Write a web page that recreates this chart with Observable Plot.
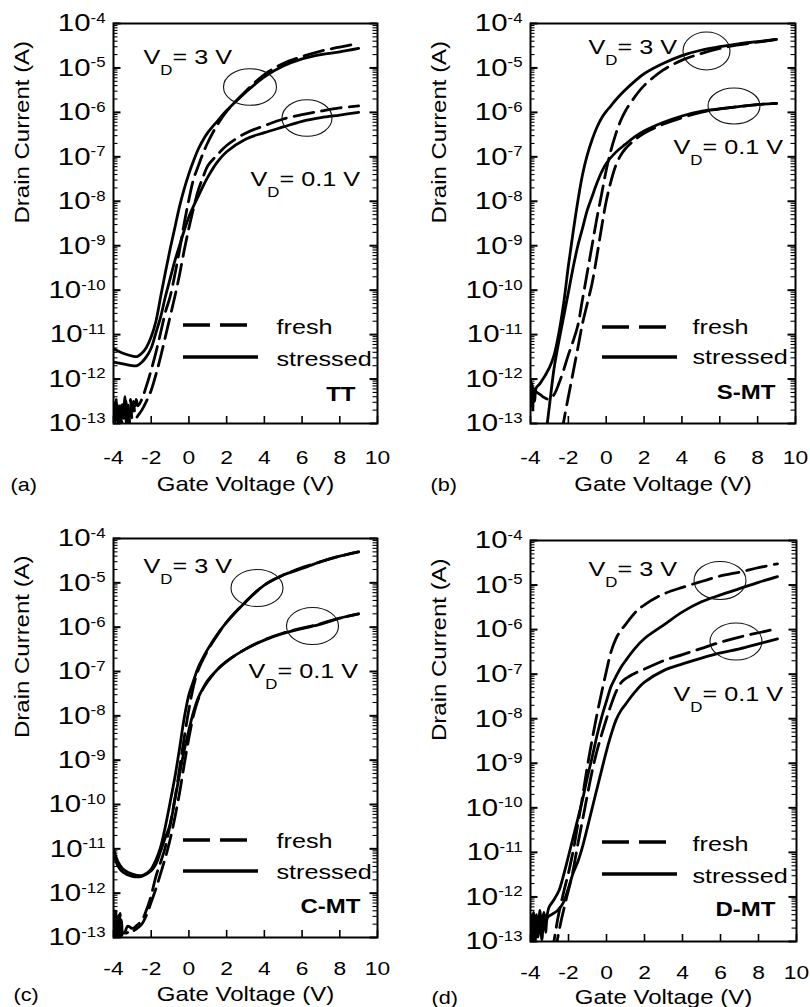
<!DOCTYPE html>
<html>
<head>
<meta charset="utf-8">
<script src="https://cdn.jsdelivr.net/npm/d3@7"></script>
<script src="https://cdn.jsdelivr.net/npm/@observablehq/plot@0.6"></script>
<style>
  html, body { margin: 0; padding: 0; background: #fff; }
  #fig { position: relative; width: 810px; height: 1007px; overflow: hidden; background: #fff; }
  #fig svg { position: absolute; }
</style>
</head>
<body>
<div id="fig"></div>
<script>
// ---------- axis ticks & labels ----------
const xTicks = [-4, -2, 0, 2, 4, 6, 8, 10];
const xTickLabels = ["-4", "-2", "0", "2", "4", "6", "8", "10"];
const yTicks = [1e-13, 1e-12, 1e-11, 1e-10, 1e-9, 1e-8, 1e-7, 1e-6, 1e-5, 1e-4];
const yTickExponents = ["-13", "-12", "-11", "-10", "-9", "-8", "-7", "-6", "-5", "-4"];
const yMinorMultipliers = [2, 3, 4, 5, 6, 7, 8, 9];
const xLabel = "Gate Voltage (V)";
const yLabel = "Drain Current (A)";
const panelLetters = ["(a)", "(b)", "(c)", "(d)"];
const deviceNames = ["TT", "S-MT", "C-MT", "D-MT"];
const seriesNames = ["fresh", "stressed"];
const drainLabels = ["VD= 3 V", "VD= 0.1 V"];

// ---------- data: [gate voltage (V), drain current (A)] ----------
// (a) TT
const ttFresh3V = [[-4,2.8e-13],[-3.92,8.9e-14],[-3.85,3.5e-13],[-3.78,1.1e-13],[-3.7,2.5e-13],[-3.62,7.9e-14],[-3.55,3.2e-13],[-3.47,1.3e-13],[-3.4,4.0e-13],[-3.32,1.0e-13],[-3.25,2.8e-13],[-3.17,1.4e-13],[-3.1,3.5e-13],[-3.02,1.3e-13],[-2.95,3.2e-13],[-2.87,1.8e-13],[-2.8,3.5e-13],[-2.7,2.5e-13],[-2.5,3.5e-13],[-2.25,7.1e-13],[-2,1.6e-12],[-1.75,4.0e-12],[-1.5,1.1e-11],[-1.25,3.2e-11],[-1,7.1e-11],[-0.75,2.2e-10],[-0.5,7.9e-10],[-0.25,3.2e-9],[0,1.1e-8],[0.25,3.2e-8],[0.5,6.3e-8],[0.75,1.2e-7],[1,2.1e-7],[1.5,5.2e-7],[2,1.05e-6],[3,2.95e-6],[4,7.1e-6],[5,1.26e-5],[6,1.8e-5],[7,2.4e-5],[8,2.95e-5],[9,3.55e-5]];
const ttStressed3V = [[-4,4.8e-12],[-3.5,3.8e-12],[-3,3.3e-12],[-2.75,3.2e-12],[-2.5,3.8e-12],[-2.25,5.2e-12],[-2,8.9e-12],[-1.75,2.0e-11],[-1.5,7.1e-11],[-1.25,2.5e-10],[-1,8.3e-10],[-0.75,2.5e-9],[-0.5,7.6e-9],[-0.25,1.9e-8],[0,4.2e-8],[0.25,8.3e-8],[0.5,1.5e-7],[0.75,2.4e-7],[1,3.5e-7],[1.5,6.3e-7],[2,1.1e-6],[3,2.8e-6],[4,6.3e-6],[5,1.1e-5],[6,1.6e-5],[7,2.0e-5],[8,2.3e-5],[9,2.75e-5]];
const ttFresh01V = [[-4,2.0e-13],[-3.9,7.9e-14],[-3.82,2.8e-13],[-3.74,1.0e-13],[-3.66,2.2e-13],[-3.58,7.9e-14],[-3.5,2.5e-13],[-3.42,1.1e-13],[-3.34,3.2e-13],[-3.26,8.9e-14],[-3.18,1.8e-13],[-3.1,7.9e-14],[-3,8.9e-14],[-2.75,1.4e-13],[-2.5,2.0e-13],[-2.25,3.2e-13],[-2,5.6e-13],[-1.75,1.26e-12],[-1.5,3.2e-12],[-1.25,8.9e-12],[-1,2.5e-11],[-0.75,7.1e-11],[-0.5,2.2e-10],[-0.25,7.9e-10],[0,2.5e-9],[0.25,7.1e-9],[0.5,1.8e-8],[0.75,3.5e-8],[1,6.3e-8],[1.5,1.1e-7],[2,1.8e-7],[3,3.4e-7],[4,5.0e-7],[5,7.1e-7],[6,8.9e-7],[7,1.07e-6],[8,1.26e-6],[9,1.4e-6]];
const ttStressed01V = [[-4,2.4e-12],[-3.5,2.2e-12],[-3,2.0e-12],[-2.75,2.0e-12],[-2.5,2.4e-12],[-2.25,3.2e-12],[-2,5.0e-12],[-1.75,1.1e-11],[-1.5,2.5e-11],[-1.25,7.1e-11],[-1,1.8e-10],[-0.75,4.5e-10],[-0.5,1.0e-9],[-0.25,2.2e-9],[0,4.5e-9],[0.25,7.9e-9],[0.5,1.3e-8],[0.75,2.2e-8],[1,3.5e-8],[1.5,7.6e-8],[2,1.3e-7],[3,2.5e-7],[4,3.5e-7],[5,4.7e-7],[6,6.3e-7],[7,7.6e-7],[8,8.7e-7],[9,1.0e-6]];
// (b) S-MT
const smtFresh3V = [[-4,6.3e-13],[-3.5,4.5e-13],[-3.25,3.8e-13],[-3,3.5e-13],[-2.75,4.5e-13],[-2.5,7.9e-13],[-2.25,1.6e-12],[-2,3.5e-12],[-1.75,7.1e-12],[-1.5,1.6e-11],[-1.25,6.3e-11],[-1,2.5e-10],[-0.75,1.0e-9],[-0.5,4.0e-9],[-0.25,1.4e-8],[0,5.0e-8],[0.25,1.4e-7],[0.5,3.2e-7],[0.75,6.3e-7],[1,1.05e-6],[1.5,2.2e-6],[2,4.0e-6],[3,8.9e-6],[4,1.5e-5],[5,2.1e-5],[6,2.75e-5],[7,3.3e-5],[8,3.8e-5],[9,4.4e-5]];
const smtStressed3V = [[-4,1.0e-12],[-3.96,2.5e-13],[-3.92,8.0e-13],[-3.88,2.0e-13],[-3.84,6.3e-13],[-3.78,3.2e-13],[-3.7,6.3e-13],[-3.5,7.9e-13],[-3,1.8e-12],[-2.75,3.5e-12],[-2.5,1.1e-11],[-2.25,5.0e-11],[-2,3.5e-10],[-1.75,2.0e-9],[-1.5,1.0e-8],[-1.25,4.0e-8],[-1,1.1e-7],[-0.75,2.4e-7],[-0.5,4.5e-7],[-0.25,7.4e-7],[0,1.05e-6],[0.25,1.4e-6],[0.5,1.9e-6],[0.75,2.5e-6],[1,3.2e-6],[1.5,5.0e-6],[2,7.4e-6],[3,1.26e-5],[4,1.9e-5],[5,2.5e-5],[6,3.0e-5],[7,3.5e-5],[8,3.9e-5],[9,4.4e-5]];
const smtFresh01V = [[-2.35,6.3e-14],[-2.25,1.1e-13],[-2,4.0e-13],[-1.75,1.4e-12],[-1.5,5.0e-12],[-1.25,1.8e-11],[-1,5.0e-11],[-0.75,1.4e-10],[-0.5,5.6e-10],[-0.25,2.5e-9],[0,1.0e-8],[0.25,2.8e-8],[0.5,6.3e-8],[0.75,1.05e-7],[1,1.5e-7],[1.5,2.4e-7],[2,3.4e-7],[3,5.4e-7],[4,7.6e-7],[5,1.0e-6],[6,1.2e-6],[7,1.35e-6],[8,1.5e-6],[9,1.6e-6]];
const smtStressed01V = [[-3.2,5.0e-14],[-3,2.5e-13],[-2.75,1.8e-12],[-2.5,7.1e-12],[-2.25,2.5e-11],[-2,8.9e-11],[-1.75,3.2e-10],[-1.5,1.0e-9],[-1.25,2.5e-9],[-1,6.3e-9],[-0.75,1.26e-8],[-0.5,2.5e-8],[-0.25,4.5e-8],[0,7.1e-8],[0.5,1.26e-7],[1,1.9e-7],[1.5,2.8e-7],[2,3.8e-7],[3,5.9e-7],[4,8.3e-7],[5,1.05e-6],[6,1.2e-6],[7,1.35e-6],[8,1.5e-6],[9,1.6e-6]];
// (c) C-MT
const cmtFresh3V = [[-4,2.5e-13],[-3.93,8.9e-14],[-3.86,4.0e-13],[-3.79,1.0e-13],[-3.72,3.2e-13],[-3.65,7.9e-14],[-3.58,2.5e-13],[-3.5,1.1e-13],[-3.4,1.26e-13],[-3.25,1.8e-13],[-3,1.6e-13],[-2.75,1.9e-13],[-2.5,2.4e-13],[-2.25,4.2e-13],[-2,8.9e-13],[-1.75,2.4e-12],[-1.5,5.0e-12],[-1.25,1.1e-11],[-1,3.5e-11],[-0.75,1.3e-10],[-0.5,6.3e-10],[-0.25,3.2e-9],[0,1.4e-8],[0.25,4.8e-8],[0.5,1.1e-7],[1,3.0e-7],[1.5,6.6e-7],[2,1.3e-6],[3,3.7e-6],[4,8.9e-6],[5,1.5e-5],[6,2.2e-5],[7,3.0e-5],[8,4.0e-5],[9,5.0e-5]];
const cmtStressed3V = [[-4,1.0e-11],[-3.75,5.0e-12],[-3.5,3.5e-12],[-3,2.7e-12],[-2.5,2.5e-12],[-2.25,2.8e-12],[-2,3.5e-12],[-1.75,5.6e-12],[-1.5,1.1e-11],[-1.25,3.2e-11],[-1,1.1e-10],[-0.75,4.0e-10],[-0.5,1.8e-9],[-0.25,8.9e-9],[0,3.0e-8],[0.25,6.3e-8],[0.5,1.26e-7],[1,3.2e-7],[1.5,6.8e-7],[2,1.3e-6],[3,3.7e-6],[4,8.9e-6],[5,1.5e-5],[6,2.1e-5],[7,3.0e-5],[8,4.0e-5],[9,5.0e-5]];
const cmtFresh01V = [[-4,1.4e-13],[-3.93,4.0e-13],[-3.86,7.9e-14],[-3.79,3.2e-13],[-3.72,8.9e-14],[-3.65,3.5e-13],[-3.58,1.1e-13],[-3.5,1.26e-13],[-3.3,1.26e-13],[-3.1,1.5e-13],[-3,1.4e-13],[-2.75,1.6e-13],[-2.5,2.0e-13],[-2.25,3.2e-13],[-2,6.3e-13],[-1.75,1.26e-12],[-1.5,2.8e-12],[-1.25,6.3e-12],[-1,1.6e-11],[-0.75,5.0e-11],[-0.5,1.8e-10],[-0.25,7.9e-10],[0,3.2e-9],[0.25,1.05e-8],[0.5,2.4e-8],[0.75,4.1e-8],[1,6.0e-8],[1.5,1.1e-7],[2,1.7e-7],[3,3.2e-7],[4,5.2e-7],[5,7.4e-7],[6,9.5e-7],[7,1.2e-6],[8,1.6e-6],[9,2.0e-6]];
const cmtStressed01V = [[-4,7.9e-12],[-3.75,4.0e-12],[-3.5,3.0e-12],[-3,2.4e-12],[-2.5,2.4e-12],[-2,3.2e-12],[-1.75,4.5e-12],[-1.5,8.9e-12],[-1.25,1.8e-11],[-1,3.5e-11],[-0.75,1.26e-10],[-0.5,4.7e-10],[-0.25,1.66e-9],[0,4.8e-9],[0.25,1.26e-8],[0.5,2.6e-8],[0.75,4.2e-8],[1,6.3e-8],[1.5,1.1e-7],[2,1.7e-7],[3,3.2e-7],[4,5.1e-7],[5,7.2e-7],[6,9.3e-7],[7,1.17e-6],[8,1.6e-6],[9,2.0e-6]];
// (d) D-MT
const dmtFresh3V = [[-2.85,5.0e-14],[-2.75,1.1e-13],[-2.5,4.5e-13],[-2.25,1.3e-12],[-2,3.5e-12],[-1.75,1.1e-11],[-1.5,4.5e-11],[-1.25,1.9e-10],[-1,8.9e-10],[-0.75,3.5e-9],[-0.5,1.26e-8],[-0.25,4.0e-8],[0,1.2e-7],[0.25,3.3e-7],[0.5,6.3e-7],[0.75,9.5e-7],[1,1.3e-6],[1.5,2.4e-6],[2,3.6e-6],[3,6.3e-6],[4,8.9e-6],[5,1.2e-5],[6,1.6e-5],[7,1.95e-5],[8,2.45e-5],[9,3.0e-5]];
const dmtStressed3V = [[-4,4.0e-13],[-3.92,1.4e-13],[-3.84,4.5e-13],[-3.76,1.26e-13],[-3.68,4.0e-13],[-3.6,1.8e-13],[-3.5,5.0e-13],[-3.4,2.0e-13],[-3.3,4.5e-13],[-3.2,2.8e-13],[-3.03,5.8e-13],[-2.75,8.9e-13],[-2.5,1.4e-12],[-2.25,3.2e-12],[-2,8.3e-12],[-1.75,2.2e-11],[-1.5,5.9e-11],[-1.25,1.6e-10],[-1,5.0e-10],[-0.75,1.4e-9],[-0.5,4.2e-9],[-0.25,1.1e-8],[0,2.5e-8],[0.25,5.4e-8],[0.5,8.9e-8],[0.75,1.4e-7],[1,2.0e-7],[1.5,3.8e-7],[2,6.3e-7],[3,1.26e-6],[4,2.5e-6],[5,4.2e-6],[6,6.0e-6],[7,8.3e-6],[8,1.15e-5],[9,1.55e-5]];
const dmtFresh01V = [[-2.7,5.0e-14],[-2.6,1.0e-13],[-2.42,2.5e-13],[-2.15,7.9e-13],[-1.8,3.2e-12],[-1.5,1.6e-11],[-1.25,5.6e-11],[-1,2.0e-10],[-0.75,6.8e-10],[-0.5,1.9e-9],[-0.25,4.5e-9],[0,1.0e-8],[0.25,2.1e-8],[0.5,4.0e-8],[0.75,6.3e-8],[1,7.9e-8],[1.5,1.05e-7],[2,1.3e-7],[3,2.0e-7],[4,2.75e-7],[5,3.8e-7],[6,5.2e-7],[7,6.8e-7],[8,8.5e-7],[9,1.05e-6]];
const dmtStressed01V = [[-4,2.5e-13],[-3.92,7.9e-14],[-3.84,3.2e-13],[-3.76,8.9e-14],[-3.68,3.5e-13],[-3.6,1.26e-13],[-3.5,3.2e-13],[-3.4,1.1e-13],[-3.3,4.0e-13],[-3.2,1.6e-13],[-3.1,3.5e-13],[-2.9,4.0e-13],[-2.59,4.9e-13],[-2.3,7.1e-13],[-2,1.6e-12],[-1.75,3.5e-12],[-1.5,6.3e-12],[-1.25,1.4e-11],[-1,3.7e-11],[-0.75,1.0e-10],[-0.5,2.7e-10],[-0.25,7.2e-10],[0,1.9e-9],[0.25,4.5e-9],[0.5,9.3e-9],[0.75,1.5e-8],[1,2.1e-8],[1.5,4.0e-8],[2,6.6e-8],[3,1.2e-7],[4,1.7e-7],[5,2.3e-7],[6,3.0e-7],[7,3.7e-7],[8,4.8e-7],[9,6.2e-7]];

const panelCurves = [
  [["fresh", ttFresh3V], ["stressed", ttStressed3V], ["fresh", ttFresh01V], ["stressed", ttStressed01V]],
  [["fresh", smtFresh3V], ["stressed", smtStressed3V], ["fresh", smtFresh01V], ["stressed", smtStressed01V]],
  [["fresh", cmtFresh3V], ["stressed", cmtStressed3V], ["fresh", cmtFresh01V], ["stressed", cmtStressed01V]],
  [["fresh", dmtFresh3V], ["stressed", dmtStressed3V], ["fresh", dmtFresh01V], ["stressed", dmtStressed01V]]
];

// ---------- layout (pixels; offsets relative to the frame's top-left) ----------
const FONT = "'Liberation Sans', Arial, Helvetica, sans-serif";
const STRETCH = 1.2;
const layouts = [
  {left: 0, top: 0, width: 405, height: 500, mt: 23, mr: 28, mb: 77, ml: 113, letterDx: -103, tickPad: 27, labDy: 67,
   vd3: [30, 40], vd01: [137, 162], ellipses: [[137, 64, 26.5, 18.3], [194, 95, 25, 18.3]],
   leg: {x0: 70, yDash: 302, ySolid: 334, tx: 163, tyF: 310, tyS: 342}, dev: [242, 377]},
  {left: 405, top: 0, width: 405, height: 500, mt: 23, mr: 15, mb: 77, ml: 125, letterDx: -100, tickPad: 27, labDy: 67,
   vd3: [58, 30], vd01: [143, 130], ellipses: [[176.5, 28, 23.5, 19], [204, 83, 26, 18]],
   leg: {x0: 72, yDash: 304, ySolid: 334, tx: 162, tyF: 310, tyS: 340}, dev: [245, 375]},
  {left: 0, top: 500, width: 405, height: 507, mt: 38, mr: 28, mb: 70, ml: 113, letterDx: -100, tickPad: 24, labDy: 63,
   vd3: [30, 34], vd01: [135, 139], ellipses: [[144, 50, 26, 18.5], [199.5, 88, 26, 18.5]],
   leg: {x0: 70, yDash: 302, ySolid: 333, tx: 163, tyF: 309, tyS: 340}, dev: [247, 374]},
  {left: 405, top: 500, width: 405, height: 507, mt: 40, mr: 14, mb: 66, ml: 125, letterDx: -99, tickPad: 24, labDy: 62,
   vd3: [58, 35], vd01: [143, 160], ellipses: [[190, 40.5, 26, 19], [206, 101.5, 26, 18.5]],
   leg: {x0: 72, yDash: 302, ySolid: 334, tx: 162, tyF: 310, tyS: 342}, dev: [245, 375]}
];

const yMinor = yTicks.slice(0, -1).flatMap(t => yMinorMultipliers.map(m => t * m));

function drawPanel(pi) {
  const L = layouts[pi];
  const W = L.width - L.ml - L.mr, H = L.height - L.mt - L.mb;
  const rows = [];
  panelCurves[pi].forEach(([cond, pts], ci) => {
    pts.forEach(([vg, id]) => rows.push({key: ci, cond, vg, id}));
  });
  const txt = (label, o) => Plot.text([label], {frameAnchor: "top-left", textAnchor: "start", lineAnchor: "bottom", fontSize: 21, ...o});
  const deco = (index, scales, values, dims) => {
    const g = d3.create("svg:g");
    const ox = dims.marginLeft, oy = dims.marginTop;
    for (const [cx, cy, rx, ry] of L.ellipses) {
      g.append("ellipse").attr("cx", ox + cx).attr("cy", oy + cy).attr("rx", rx).attr("ry", ry)
        .attr("fill", "none").attr("stroke", "#111").attr("stroke-width", 1.1);
    }
    g.append("line").attr("x1", ox + L.leg.x0).attr("x2", ox + L.leg.x0 + 64)
      .attr("y1", oy + L.leg.yDash).attr("y2", oy + L.leg.yDash)
      .attr("stroke", "black").attr("stroke-width", 3.4).attr("stroke-dasharray", "27,10");
    g.append("line").attr("x1", ox + L.leg.x0).attr("x2", ox + L.leg.x0 + 75)
      .attr("y1", oy + L.leg.ySolid).attr("y2", oy + L.leg.ySolid)
      .attr("stroke", "black").attr("stroke-width", 3.4);
    return g.node();
  };
  const svg = Plot.plot({
    width: L.width, height: L.height,
    marginTop: L.mt, marginRight: L.mr, marginBottom: L.mb, marginLeft: L.ml,
    style: {fontFamily: FONT, background: "white", color: "black", overflow: "visible"},
    x: {domain: [-4, 10]},
    y: {type: "log", domain: [1e-13, 1e-4]},
    marks: [
      Plot.line(rows.filter(r => r.cond === seriesNames[1]), {x: "vg", y: "id", z: "key", stroke: "black", strokeWidth: 2.8, curve: "catmull-rom", clip: true}),
      Plot.line(rows.filter(r => r.cond === seriesNames[0]), {x: "vg", y: "id", z: "key", stroke: "black", strokeWidth: 2.8, strokeDasharray: "20,8", curve: "catmull-rom", clip: true}),
      Plot.tickY(yMinor, {y: d => d, insetRight: W - 4.5, strokeWidth: 1.1}),
      Plot.tickY(yMinor, {y: d => d, insetLeft: W - 4.5, strokeWidth: 1.1}),
      Plot.tickY(yTicks, {y: d => d, insetRight: W - 7.5, strokeWidth: 2}),
      Plot.tickY(yTicks, {y: d => d, insetLeft: W - 7.5, strokeWidth: 2}),
      Plot.tickX(xTicks, {x: d => d, insetTop: H - 7, strokeWidth: 1.6}),
      Plot.frame({stroke: "black", strokeWidth: 2}),
      Plot.axisY(yTicks, {tickSize: 0, tickPadding: 8, fontSize: 24.5, label: null,
        tickFormat: d => "10^" + yTickExponents[yTicks.indexOf(d)]}),
      Plot.axisX(xTicks, {tickSize: 0, tickPadding: L.tickPad, fontSize: 19, label: null,
        tickFormat: d => xTickLabels[xTicks.indexOf(d)]}),
      Plot.text([xLabel], {frameAnchor: "bottom", dy: L.labDy, lineAnchor: "bottom", fontSize: 20}),
      Plot.text([panelLetters[pi]], {frameAnchor: "bottom-left", dx: L.letterDx, dy: L.labDy, textAnchor: "start", lineAnchor: "bottom", fontSize: 18}),
      Plot.text([yLabel], {frameAnchor: "left", dx: -91, rotate: -90, fontSize: 20}),
      txt(drainLabels[0], {dx: L.vd3[0], dy: L.vd3[1]}),
      txt(drainLabels[1], {dx: L.vd01[0], dy: L.vd01[1]}),
      txt(seriesNames[0], {dx: L.leg.tx, dy: L.leg.tyF}),
      txt(seriesNames[1], {dx: L.leg.tx, dy: L.leg.tyS}),
      txt(deviceNames[pi], {dx: L.dev[0], dy: L.dev[1], textAnchor: "end", fontWeight: "bold", fontSize: 20}),
      deco
    ]
  });
  // superscripts / subscripts and horizontal glyph stretch of the original typeface
  d3.select(svg).selectAll("text").each(function () {
    const t = this.textContent;
    let m;
    if ((m = /^10\^(-?\d+)$/.exec(t))) {
      this.textContent = "10";
      d3.select(this).append("tspan").attr("dy", -8.5).attr("font-size", 14).text(m[1]);
    } else if ((m = /^VD(=.*)$/.exec(t))) {
      this.textContent = "V";
      d3.select(this).append("tspan").attr("dy", 11).attr("font-size", 14).text("D");
      d3.select(this).append("tspan").attr("dy", -11).text(m[1]);
    }
    const tr = this.getAttribute("transform") || "";
    this.setAttribute("transform", (tr + " scale(" + STRETCH + ",1)").trim());
  });
  svg.style.left = L.left + "px";
  svg.style.top = L.top + "px";
  document.getElementById("fig").appendChild(svg);
}

[0, 1, 2, 3].forEach(drawPanel);
</script>
</body>
</html>
